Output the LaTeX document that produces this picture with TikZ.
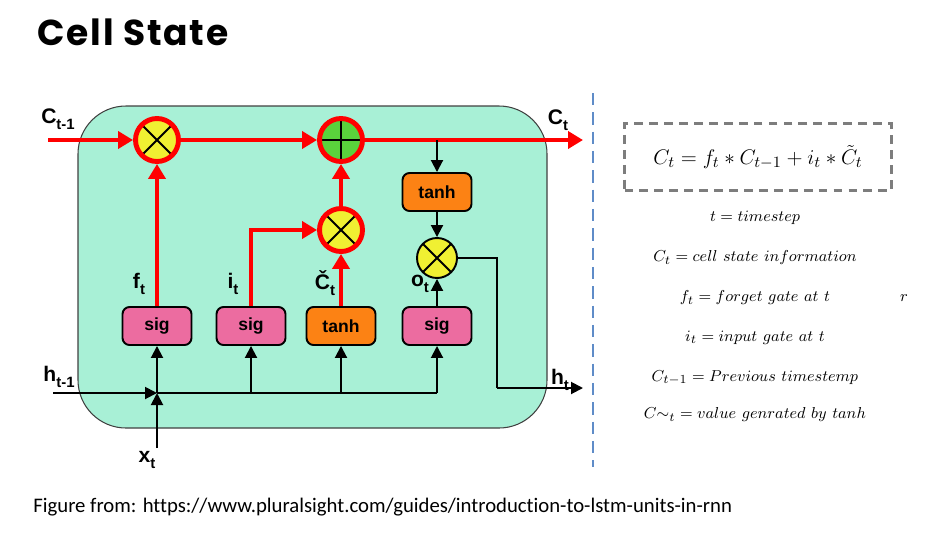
\documentclass[tikz,border=0pt]{standalone}
\usepackage{fontspec}
\setsansfont{Liberation Sans}
\newfontfamily\titlefont[LetterSpace=5]{Poppins}
\newfontfamily\capfont[Ligatures=NoCommon]{Carlito}
\usetikzlibrary{arrows.meta}
\definecolor{CellMint}{RGB}{168,240,214}
\definecolor{GatePink}{RGB}{236,108,160}
\definecolor{GateOrange}{RGB}{252,130,20}
\definecolor{OpYellow}{RGB}{240,240,50}
\definecolor{OpGreen}{RGB}{90,210,60}
\definecolor{FlowRed}{RGB}{255,0,0}
\definecolor{SepBlue}{RGB}{95,140,200}
\definecolor{BoxGray}{RGB}{125,125,125}
\newcommand{\lstmlbl}[2]{\textbf{#1}\raisebox{-0.5ex}{\fontsize{8.5}{8.5}\selectfont\bfseries #2}}

\begin{document}
\begin{tikzpicture}[x=0.02cm, y=-0.02cm,
    gatebox/.style={rectangle, rounded corners=4pt, draw=black, line width=1.1pt,
                    minimum width=1.38cm, minimum height=0.76cm,
                    font=\sffamily\bfseries\fontsize{10}{12}\selectfont},
    sigbox/.style={gatebox, fill=GatePink},
    tanhbox/.style={gatebox, fill=GateOrange},
    mulop/.style={circle, fill=OpYellow, draw=FlowRed, line width=2.8pt,
                  minimum size=0.86cm, inner sep=0pt,
                  path picture={\draw[black, line width=1.1pt]
                    (path picture bounding box.north west) -- (path picture bounding box.south east)
                    (path picture bounding box.north east) -- (path picture bounding box.south west);}},
    addop/.style={mulop, fill=OpGreen,
                  path picture={\draw[black, line width=1.1pt]
                    (path picture bounding box.north) -- (path picture bounding box.south)
                    (path picture bounding box.west) -- (path picture bounding box.east);}},
    redarr/.style={draw=FlowRed, line width=2.8pt, -{Triangle[length=0.3cm, width=0.34cm]}},
    blkarr/.style={draw=black, line width=1.1pt, -{Triangle[length=0.24cm, width=0.24cm]}},
    blkline/.style={draw=black, line width=1.1pt},
    lbl/.style={font=\sffamily\fontsize{12}{14}\selectfont, inner sep=0pt},
    defline/.style={font=\fontsize{9.5}{11}\selectfont, inner sep=0pt}
  ]
  \useasboundingbox (0,0) rectangle (925,538);

  \node[anchor=west, inner sep=0pt, font=\titlefont\bfseries\fontsize{20.5}{24}\selectfont]
        (title) at (37,32) {Cell State};

  % the cell
  \draw[fill=CellMint, draw=black!75, line width=0.6pt, rounded corners=0.96cm]
        (78,106) rectangle (547,428);

  \node[mulop] (fmul) at (157,140) {};
  \node[addop] (cadd) at (341,140) {};
  \node[mulop] (imul) at (341,230) {};
  \node[mulop, draw=black, line width=1.1pt, minimum size=0.8cm] (omul) at (437,258) {};

  \node[sigbox]  (fsig)  at (157,326) {sig};
  \node[sigbox]  (isig)  at (251,326) {sig};
  \node[tanhbox] (ctanh) at (341,326) {tanh};
  \node[sigbox]  (osig)  at (437,326) {sig};
  \node[tanhbox] (htanh) at (437,192) {tanh};

  \coordinate (cin)   at (48,140);
  \coordinate (cout)  at (583,140);
  \coordinate (hin)   at (53,393);
  \coordinate (jn)    at (157,393);
  \coordinate (xin)   at (157,448);
  \coordinate (hbend) at (497,388);
  \coordinate (hout)  at (583,388);

  % cell state path
  \draw[redarr] (cin) -- (fmul);
  \draw[redarr] (fmul) -- (cadd);
  \draw[redarr] (cadd) -- (cout);
  \draw[redarr] (fsig) -- (fmul);
  \draw[redarr] (isig) |- (imul);
  \draw[redarr] (ctanh) -- (imul);
  \draw[redarr] (imul) -- (cadd);

  % hidden state path
  \draw[blkarr] (htanh |- cadd) -- (htanh);
  \draw[blkarr] (htanh) -- (omul);
  \draw[blkarr] (osig) -- (omul);
  \draw[blkline] (omul) -| (hbend);
  \draw[blkarr] (hbend) -- (hout);

  \draw[blkarr] (hin) -- (jn);
  \draw[blkarr] (xin) -- (jn);
  \draw[blkline] (jn) -- (osig |- jn);
  \foreach \g in {fsig, isig, ctanh, osig}
    \draw[blkarr] (\g |- jn) -- (\g);

  \node[lbl] (lcprev) at (58,119) {\lstmlbl{C}{t-1}};
  \node[lbl] (lcnext) at (558,120) {\lstmlbl{C}{t}};
  \node[lbl] (lf)     at (139,284) {\lstmlbl{f}{t}};
  \node[lbl] (li)     at (233,284) {\lstmlbl{i}{t}};
  \node[lbl] (lc)     at (325,283) {\lstmlbl{Č}{t}};
  \node[lbl] (lo)     at (420,284) {\lstmlbl{o}{t}};
  \node[lbl] (lhprev) at (59,377) {\lstmlbl{h}{t-1}};
  \node[lbl] (lh)     at (560,380) {\lstmlbl{h}{t}};
  \node[lbl] (lx)     at (147,460) {\lstmlbl{x}{t}};

  \draw[SepBlue, line width=1.3pt, dash pattern=on 7pt off 4pt] (593,93) -- (593,467);

  % equations
  \node[draw=BoxGray, line width=1.3pt, dash pattern=on 5pt off 3.5pt,
        minimum width=5.34cm, minimum height=1.34cm,
        font=\fontsize{12.5}{15}\selectfont] (eqbox) at (758,157)
        {$C_t = f_t * C_{t-1} + i_t * \tilde{C}_t$};

  \node[defline] (dt)  at (755,218) {$t = timestep$};
  \node[defline] (dc)  at (755,258) {$C_t = cell\ state\ information$};
  \node[defline] (df)  at (755,298) {$f_t = forget\ gate\ at\ t$};
  \node[defline] (di)  at (755,338) {$i_t = input\ gate\ at\ t$};
  \node[defline] (dcp) at (755,378) {$C_{t-1} = Previous\ timestemp$};
  \node[defline] (dct) at (755,415) {$C{\sim}_t = value\ genrated\ by\ tanh$};
  \node[defline] (stray) at (904,298) {$r$};

  \node[anchor=west, inner sep=0pt, font=\capfont\fontsize{11.8}{14}\selectfont]
        (caption) at (33,507) {Figure from: https://www.pluralsight.com/guides/introduction-to-lstm-units-in-rnn};
\end{tikzpicture}
\end{document}
